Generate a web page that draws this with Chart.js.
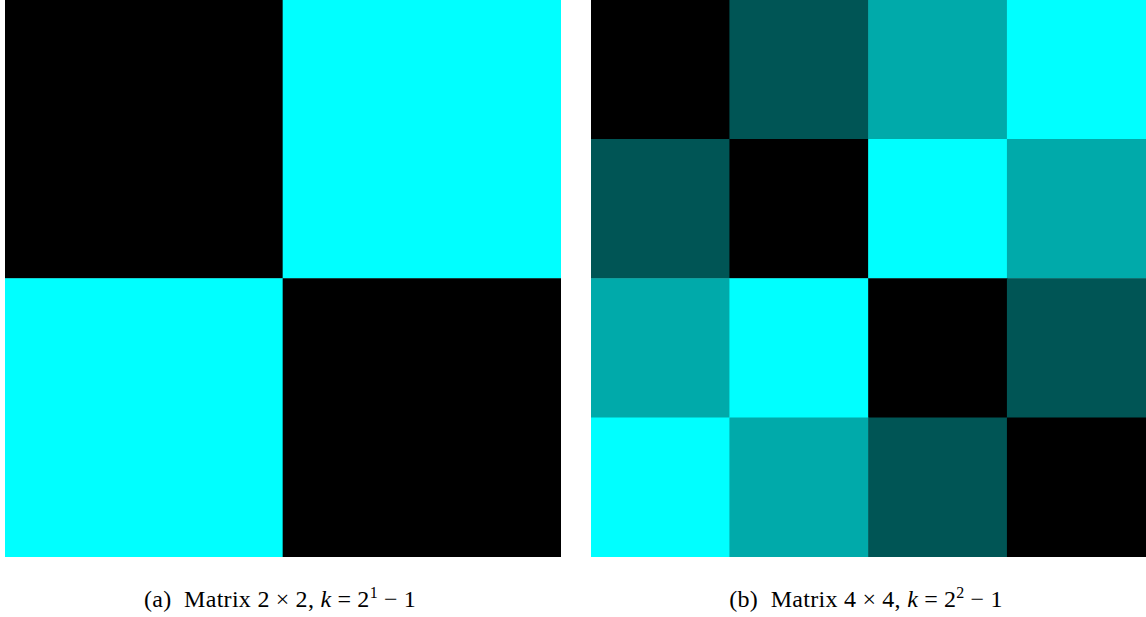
<!DOCTYPE html>
<html>
<head>
<meta charset="utf-8">
<script src="https://cdn.jsdelivr.net/npm/chart.js@4.4.0/dist/chart.umd.min.js"></script>
<style>
  body { margin: 0; background: #fff; width: 1146px; height: 617px; position: relative; overflow: hidden; }
  .panel { position: absolute; top: 0; height: 557px; }
  .caption {
    position: absolute; top: 586px; width: 600px; text-align: center; white-space: nowrap;
    font-family: "Liberation Serif", "DejaVu Serif", serif; font-size: 24px; letter-spacing: 0.3px; color: #000;
  }
  .caption sup { font-size: 16px; line-height: 0; vertical-align: 0.55em; }
  .op { padding: 0 6px; }
</style>
</head>
<body>
<div class="panel" style="left:5px; width:556px;"><canvas id="matA"></canvas></div>
<div class="panel" style="left:591px; width:555px;"><canvas id="matB"></canvas></div>
<div class="caption" style="left:-20px;">(a)&nbsp; Matrix 2<span class="op">×</span>2, <i>k</i><span class="op">=</span>2<sup>1</sup><span class="op">−</span>1</div>
<div class="caption" style="left:566px;">(b)&nbsp; Matrix 4<span class="op">×</span>4, <i>k</i><span class="op">=</span>2<sup>2</sup><span class="op">−</span>1</div>
<script>
// cell values, rows top to bottom
const matrixA = [
    [0, 1],
    [1, 0],
];
const matrixB = [
    [0, 1, 2, 3],
    [1, 0, 3, 2],
    [2, 3, 0, 1],
    [3, 2, 1, 0],
];

// black -> cyan, scaled by k
function cellColor(v, k) {
    const g = Math.round(255 * v / k);
    return `rgb(0, ${g}, ${g})`;
}

function drawMatrix(canvasId, matrix) {
    const n = matrix.length;
    const k = n - 1;
    const labels = matrix[0].map((_, j) => String(j));

    // one stacked dataset per row, bottom row first
    const datasets = [];
    for (let r = n - 1; r >= 0; r--) {
        datasets.push({
            data: matrix[r].map(() => 1),
            backgroundColor: matrix[r].map(v => cellColor(v, k)),
            borderWidth: 0,
            barPercentage: 1,
            categoryPercentage: 1,
        });
    }

    new Chart(document.getElementById(canvasId), {
        type: 'bar',
        data: { labels, datasets },
        options: {
            responsive: true,
            maintainAspectRatio: false,
            animation: false,
            layout: { padding: 0 },
            plugins: { legend: { display: false }, tooltip: { enabled: false } },
            scales: {
                x: { stacked: true, display: false, grid: { display: false } },
                y: { stacked: true, display: false, min: 0, max: n, grid: { display: false } },
            },
        },
    });
}

drawMatrix('matA', matrixA);
drawMatrix('matB', matrixB);
</script>
</body>
</html>
